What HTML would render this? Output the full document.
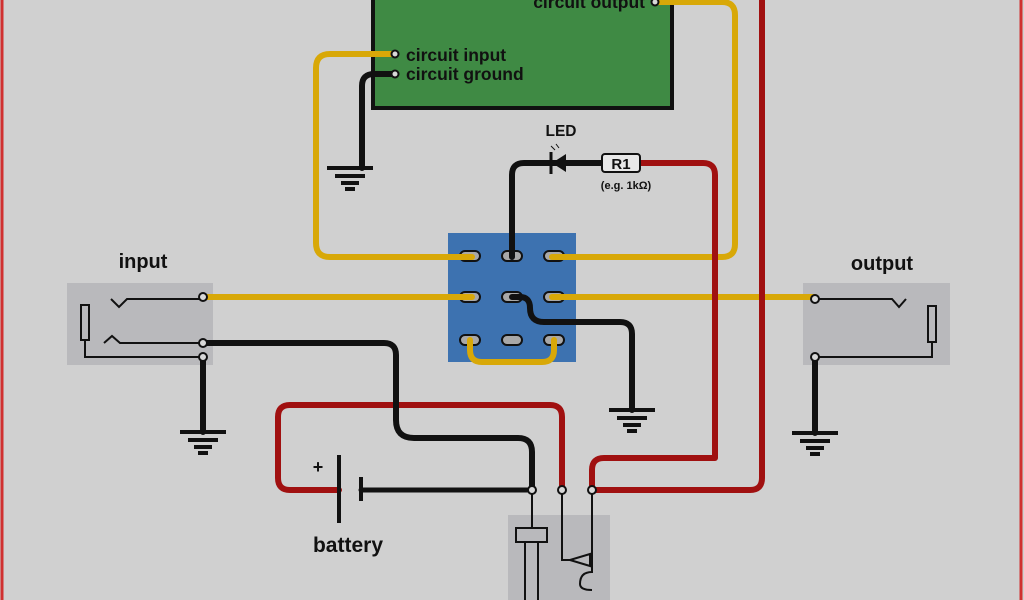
<!DOCTYPE html><html><head><style>body{margin:0;background:#d0d0d0}svg{display:block}text{font-family:"Liberation Sans",sans-serif;font-weight:bold;fill:#111}</style></head><body>
<svg width="1024" height="600" viewBox="0 0 1024 600">
<rect width="1024" height="600" fill="#d0d0d0"/>
<line x1="2" y1="0" x2="2" y2="600" stroke="#d03030" stroke-width="3"/>
<line x1="1021" y1="0" x2="1021" y2="600" stroke="#d03030" stroke-width="3"/>
<rect x="373" y="-6" width="299" height="114" fill="#3f8a44" stroke="#111" stroke-width="4"/>
<text x="645" y="8" font-size="17.5" text-anchor="end">circuit output</text>
<text x="406" y="61" font-size="17.5">circuit input</text>
<text x="406" y="80" font-size="17.5">circuit ground</text>
<rect x="67" y="283" width="146" height="82" fill="#b9b9bc"/>
<rect x="803" y="283" width="147" height="82" fill="#b9b9bc"/>
<rect x="508" y="515" width="102" height="90" fill="#b9b9bc"/>
<rect x="448" y="233" width="128" height="129" fill="#3d72b0"/>
<g fill="#a8a8a8" stroke="#111" stroke-width="2">
<rect x="460" y="251" width="20" height="10" rx="5"/><rect x="502" y="251" width="20" height="10" rx="5"/><rect x="544" y="251" width="20" height="10" rx="5"/>
<rect x="460" y="292" width="20" height="10" rx="5"/><rect x="502" y="292" width="20" height="10" rx="5"/><rect x="544" y="292" width="20" height="10" rx="5"/>
<rect x="460" y="335" width="20" height="10" rx="5"/><rect x="502" y="335" width="20" height="10" rx="5"/><rect x="544" y="335" width="20" height="10" rx="5"/>
</g>
<g fill="none" stroke-width="6" stroke-linecap="round" stroke-linejoin="round">
<path d="M395,54 H330 Q316,54 316,68 V243 Q316,257 330,257 H472" stroke="#d8a808"/>
<path d="M655,2 H722 Q735,2 735,15 V244 Q735,257 722,257 H552" stroke="#d8a808"/>
<path d="M203,297 H472 M552,297 H815" stroke="#d8a808"/>
<path d="M470,340 V350 Q470,362 482,362 H542 Q554,362 554,350 V340" stroke="#d8a808"/>
<path d="M762,0 V478 Q762,490 750,490 H592" stroke="#a01010"/>
<path d="M640,163 H703 Q715,163 715,175 V458 H604 Q592,458 592,470 V490" stroke="#a01010"/>
<path d="M339,490 H290 Q278,490 278,478 V417 Q278,405 290,405 H550 Q562,405 562,417 V490" stroke="#a01010"/>
<path d="M395,74 H374 Q362,74 362,86 V168" stroke="#111"/>
<path d="M203,343 H384 Q396,343 396,355 V420 Q396,438 414,438 H518 Q532,438 532,452 V490" stroke="#111"/>
<path d="M361,490 H532" stroke="#111" stroke-width="5"/>
<path d="M512,257 V175 Q512,163 524,163 H602" stroke="#111"/>
<path d="M512,297 H520 Q530,297 530,308 Q530,322 544,322 H620 Q632,322 632,334 V410" stroke="#111"/>
<path d="M203,357 V432 M815,357 V433" stroke="#111"/>
</g>
<g stroke="#111" stroke-width="4">
<path d="M327,168 h46 M335,176 h30 M341,183 h18 M345,189 h10"/>
<path d="M180,432 h46 M188,440 h30 M194,447 h18 M198,453 h10"/>
<path d="M609,410 h46 M617,418 h30 M623,425 h18 M627,431 h10"/>
<path d="M792,433 h46 M800,441 h30 M806,448 h18 M810,454 h10"/>
<path d="M339,455 V523 M361,477 V501"/>
</g>
<polygon points="552,163 566,154 566,172" fill="#111"/>
<line x1="551" y1="152" x2="551" y2="174" stroke="#111" stroke-width="3"/>
<path d="M555,150 l-4,-4 M559,148 l-3,-4" stroke="#111" stroke-width="1"/>
<rect x="602" y="154" width="38" height="18" rx="3" fill="#e8e8e8" stroke="#111" stroke-width="2"/>
<text x="621" y="169" font-size="15" text-anchor="middle">R1</text>
<text x="626" y="189" font-size="11" text-anchor="middle">(e.g. 1kΩ)</text>
<text x="561" y="136" font-size="15.5" text-anchor="middle">LED</text>
<text x="143" y="268" font-size="20" text-anchor="middle">input</text>
<text x="882" y="270" font-size="20" text-anchor="middle">output</text>
<text x="318" y="473" font-size="18" text-anchor="middle">+</text>
<text x="348" y="552" font-size="21" text-anchor="middle">battery</text>
<g fill="none" stroke="#111" stroke-width="2">
<path d="M203,299 H127 L119,307 L111,299"/>
<path d="M203,343 H120 L112,336 L104,343"/>
<rect x="81" y="305" width="8" height="35"/>
<path d="M85,340 V357 H203"/>
<path d="M815,299 H892 L899,307 L906,299"/>
<rect x="928" y="306" width="8" height="36"/>
<path d="M932,342 V357 H815"/>
<path d="M532,490 V528 M516,528 H547 V542 H516 Z M525,542 V600 M538,542 V600"/>
<path d="M562,490 V560 H570 L590,554 V566 L570,560 M592,490 V572 Q580,572 580,584 Q580,590 592,590"/>
</g>
<g fill="#d8d8d8" stroke="#111" stroke-width="2">
<circle cx="203" cy="297" r="4"/><circle cx="203" cy="343" r="4"/><circle cx="203" cy="357" r="4"/>
<circle cx="815" cy="299" r="4"/><circle cx="815" cy="357" r="4"/>
<circle cx="395" cy="54" r="3.5"/><circle cx="395" cy="74" r="3.5"/><circle cx="655" cy="2" r="3.5"/>
<circle cx="532" cy="490" r="4"/><circle cx="562" cy="490" r="4"/><circle cx="592" cy="490" r="4"/>
</g>
</svg></body></html>
